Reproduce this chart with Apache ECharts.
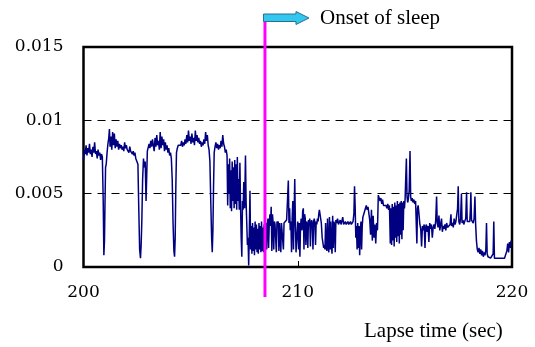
<!DOCTYPE html>
<html>
<head>
<meta charset="utf-8">
<script src="https://cdn.jsdelivr.net/npm/echarts@6/dist/echarts.min.js"></script>
<style>
  html, body { margin: 0; padding: 0; background: #fff; }
  #chart { width: 535px; height: 347px; }
</style>
</head>
<body>
<div id="chart"></div>
<script>
// [lapse time (sec), amplitude]
const awakeEarly = [
  [200.00,0.0073],[200.04,0.0080],[200.08,0.0077],[200.12,0.0083],[200.16,0.0076],[200.20,0.0081],
  [200.24,0.0078],[200.28,0.0084],[200.32,0.0077],[200.36,0.0080],[200.40,0.0075],[200.44,0.0082],
  [200.48,0.0078],[200.52,0.0085],[200.56,0.0077],[200.60,0.0079],[200.64,0.0074],[200.68,0.0080],
  [200.72,0.0076],[200.76,0.0078],[200.80,0.0073],[200.84,0.0077],[200.88,0.0075],[200.90,0.0074],
  [200.92,0.0045],[200.95,0.0008],[200.98,0.0018],[201.00,0.0040],[201.03,0.0068],[201.06,0.0070],
  [201.10,0.0078],[201.14,0.0084],[201.18,0.0088],[201.21,0.0094],[201.24,0.0082],[201.28,0.0089],
  [201.32,0.0080],[201.36,0.0092],[201.40,0.0083],[201.44,0.0091],[201.48,0.0081],[201.52,0.0087],
  [201.56,0.0082],[201.60,0.0086],[201.64,0.0080],[201.68,0.0084],[201.72,0.0081],[201.76,0.0083],
  [201.80,0.0080],[201.84,0.0082],[201.88,0.0079],[201.92,0.0085],[201.96,0.0081],[202.00,0.0083],
  [202.04,0.0080],[202.08,0.0081],[202.12,0.0078],[202.16,0.0082],[202.20,0.0079],[202.24,0.0080],
  [202.28,0.0077],[202.32,0.0079],[202.36,0.0076],[202.40,0.0078],[202.44,0.0074],[202.50,0.0073],
  [202.54,0.0070],[202.58,0.0040],[202.62,0.0012],[202.66,0.0006],[202.69,0.0015],[202.72,0.0030],
  [202.76,0.0060],[202.80,0.0074],[202.84,0.0068],[202.88,0.0072],[202.92,0.0045],[202.95,0.0062],
  [202.98,0.0079],[203.02,0.0080],[203.06,0.0084],[203.10,0.0081],[203.14,0.0086],[203.18,0.0082],
  [203.22,0.0087],[203.26,0.0083],[203.30,0.0079],[203.34,0.0088],[203.38,0.0082],[203.42,0.0090],
  [203.46,0.0083],[203.50,0.0086],[203.54,0.0080],[203.58,0.0092],[203.62,0.0081],[203.66,0.0089],
  [203.70,0.0083],[203.74,0.0087],[203.78,0.0079],[203.82,0.0085],[203.86,0.0080],[203.90,0.0083],
  [203.94,0.0078],[203.98,0.0081],[204.02,0.0076],[204.06,0.0078],[204.10,0.0074],[204.14,0.0060],
  [204.18,0.0030],[204.22,0.0011],[204.25,0.0007],[204.28,0.0020],[204.31,0.0055],[204.34,0.0078]
];

const awakeLate = [
  [204.38,0.0081],[204.42,0.0083],[204.46,0.0082],[204.50,0.0084],[204.54,0.0083],[204.58,0.0086],
  [204.62,0.0082],[204.66,0.0085],[204.70,0.0083],[204.74,0.0087],[204.78,0.0084],[204.82,0.0090],
  [204.86,0.0085],[204.90,0.0093],[204.94,0.0086],[204.98,0.0089],[205.02,0.0084],[205.06,0.0091],
  [205.10,0.0085],[205.14,0.0088],[205.18,0.0083],[205.22,0.0093],[205.26,0.0086],[205.30,0.0090],
  [205.34,0.0085],[205.38,0.0088],[205.42,0.0084],[205.46,0.0086],[205.50,0.0082],[205.54,0.0085],
  [205.58,0.0083],[205.62,0.0087],[205.66,0.0084],[205.70,0.0092],[205.74,0.0086],[205.78,0.0090],
  [205.82,0.0083],[205.86,0.0080],[205.90,0.0072],[205.94,0.0045],[205.98,0.0020],[206.01,0.0010],
  [206.04,0.0025],[206.07,0.0055],[206.10,0.0078],[206.14,0.0082],[206.18,0.0085],[206.22,0.0081],
  [206.26,0.0084],[206.30,0.0080],[206.34,0.0083],[206.38,0.0081],[206.42,0.0086],[206.46,0.0082],
  [206.50,0.0090],[206.54,0.0084],[206.58,0.0082],[206.62,0.0078],[206.66,0.0080]
];

const transition = [
  [206.70,0.0076],[206.73,0.0042],[206.76,0.0070],[206.79,0.0050],[206.82,0.0074],[206.85,0.0040],
  [206.88,0.0066],[206.91,0.0038],[206.94,0.0072],[206.97,0.0045],[207.00,0.0068],[207.03,0.0040],
  [207.06,0.0073],[207.09,0.0043],[207.12,0.0070],[207.15,0.0039],[207.18,0.0075],[207.21,0.0045],
  [207.24,0.0060],[207.27,0.0039],[207.30,0.0071],[207.33,0.0042],[207.36,0.0020],[207.39,0.0007],
  [207.42,0.0045],[207.45,0.0039],[207.48,0.0058],[207.52,0.0040],[207.56,0.0076],[207.59,0.0044],
  [207.62,0.0030],[207.65,0.0015],[207.68,0.0020],[207.71,0.0001],[207.74,0.0025],[207.77,0.0052],
  [207.80,0.0012],[207.83,0.0028],[207.86,0.0009],[207.89,0.0030],[207.92,0.0011],[207.95,0.0027],
  [207.98,0.0008],[208.01,0.0031],[208.04,0.0012],[208.07,0.0029],[208.10,0.0010],[208.13,0.0026],
  [208.16,0.0009],[208.19,0.0030],[208.22,0.0012],[208.25,0.0028],[208.28,0.0010],[208.31,0.0031],
  [208.34,0.0011],[208.37,0.0027],[208.40,0.0010],[208.43,0.0029],[208.46,0.0009],[208.49,0.0028],
  [208.52,0.0030],[208.55,0.0012],[208.58,0.0029],[208.61,0.0033],[208.64,0.0013],[208.67,0.0030],
  [208.70,0.0036],[208.73,0.0028],[208.76,0.0041],[208.79,0.0011],[208.82,0.0036],[208.85,0.0030],
  [208.88,0.0012],[208.91,0.0031],[208.94,0.0029],[208.97,0.0030],[209.00,0.0010],[209.03,0.0031],
  [209.06,0.0029],[209.09,0.0031],[209.12,0.0011],[209.15,0.0030],[209.18,0.0031],[209.21,0.0010],
  [209.24,0.0030],[209.27,0.0031],[209.30,0.0030],[209.33,0.0012],[209.36,0.0030],[209.40,0.0031],
  [209.44,0.0029],[209.48,0.0032],[209.52,0.0045],[209.56,0.0059],[209.59,0.0030],[209.62,0.0040],
  [209.65,0.0025],[209.68,0.0031],[209.71,0.0010],[209.74,0.0033],[209.77,0.0045],[209.80,0.0012],
  [209.83,0.0035],[209.86,0.0060],[209.89,0.0030],[209.92,0.0010]
];

const asleepEarly = [
  [210.00,0.0031],[210.04,0.0012],[210.07,0.0030],[210.10,0.0007],[210.13,0.0028],[210.16,0.0033],
  [210.20,0.0025],[210.23,0.0038],[210.26,0.0040],[210.29,0.0012],[210.32,0.0036],[210.35,0.0033],
  [210.38,0.0015],[210.41,0.0031],[210.44,0.0029],[210.47,0.0013],[210.50,0.0032],[210.53,0.0028],
  [210.56,0.0033],[210.59,0.0014],[210.62,0.0030],[210.65,0.0032],[210.68,0.0029],[210.71,0.0012],
  [210.74,0.0031],[210.77,0.0033],[210.80,0.0030],[210.83,0.0015],[210.86,0.0031],[210.89,0.0029],
  [210.92,0.0033],[210.95,0.0031],[210.98,0.0036],[211.01,0.0039],[211.04,0.0040],[211.07,0.0033],
  [211.10,0.0030],[211.14,0.0020],[211.18,0.0016],[211.21,0.0013],[211.24,0.0015],[211.27,0.0012],
  [211.30,0.0030],[211.33,0.0013],[211.36,0.0011],[211.39,0.0033],[211.42,0.0014],[211.45,0.0010],
  [211.48,0.0034],[211.51,0.0012],[211.54,0.0031],[211.57,0.0014],[211.60,0.0009],[211.63,0.0035],
  [211.66,0.0013],[211.69,0.0031],[211.72,0.0028],[211.75,0.0010],[211.78,0.0032],[211.82,0.0030],
  [211.86,0.0033],[211.90,0.0029],[211.94,0.0030],[211.98,0.0032],[212.02,0.0029],[212.06,0.0030],
  [212.10,0.0034],[212.14,0.0029],[212.18,0.0030],[212.22,0.0031],[212.26,0.0029],[212.30,0.0030],
  [212.34,0.0031],[212.38,0.0029],[212.42,0.0030],[212.46,0.0031],[212.50,0.0029],[212.54,0.0030],
  [212.58,0.0031],[212.62,0.0036],[212.65,0.0055],[212.68,0.0041],[212.71,0.0020],[212.74,0.0028],
  [212.77,0.0012],[212.80,0.0030],[212.83,0.0013],[212.86,0.0028],[212.89,0.0008],[212.92,0.0025],
  [212.95,0.0031],[212.98,0.0012],[213.01,0.0028],[213.04,0.0034],[213.08,0.0036],[213.12,0.0038],
  [213.16,0.0040],[213.20,0.0042],[213.24,0.0039],[213.28,0.0041],[213.32,0.0040],[213.36,0.0032],
  [213.40,0.0022],[213.44,0.0039],[213.48,0.0018],[213.52,0.0035],[213.56,0.0020],[213.60,0.0029],
  [213.64,0.0016],[213.68,0.0030],[213.72,0.0025],[213.76,0.0049],[213.80,0.0050],[213.84,0.0045],
  [213.88,0.0047],[213.92,0.0043],[213.96,0.0046],[214.00,0.0042],[214.04,0.0043],[214.08,0.0041],
  [214.12,0.0042],[214.16,0.0040],[214.20,0.0043],[214.24,0.0039],[214.28,0.0042],[214.32,0.0016],
  [214.35,0.0040],[214.38,0.0015],[214.41,0.0043],[214.44,0.0018],[214.47,0.0041],[214.50,0.0014],
  [214.53,0.0044],[214.56,0.0020],[214.59,0.0042],[214.62,0.0017],[214.65,0.0045],[214.68,0.0021],
  [214.71,0.0043],[214.74,0.0016],[214.77,0.0044],[214.80,0.0022],[214.83,0.0045],[214.86,0.0019],
  [214.89,0.0044],[214.92,0.0025],[214.95,0.0045],[214.98,0.0040]
];

const asleepLate = [
  [215.01,0.0046],[215.04,0.0047],[215.07,0.0074],[215.10,0.0048],[215.13,0.0044],[215.16,0.0046],
  [215.20,0.0052],[215.24,0.0079],[215.27,0.0048],[215.30,0.0045],[215.34,0.0047],[215.38,0.0044],
  [215.42,0.0046],[215.46,0.0043],[215.50,0.0045],[215.53,0.0030],[215.56,0.0016],[215.59,0.0040],
  [215.62,0.0042],[215.66,0.0036],[215.70,0.0029],[215.74,0.0026],[215.78,0.0014],[215.82,0.0028],
  [215.86,0.0025],[215.90,0.0029],[215.94,0.0013],[215.97,0.0027],[216.00,0.0029],[216.04,0.0024],
  [216.08,0.0028],[216.12,0.0017],[216.16,0.0030],[216.20,0.0026],[216.24,0.0029],[216.28,0.0020],
  [216.32,0.0027],[216.36,0.0029],[216.40,0.0026],[216.44,0.0032],[216.48,0.0048],[216.51,0.0030],
  [216.55,0.0027],[216.59,0.0035],[216.63,0.0025],[216.67,0.0029],[216.71,0.0033],[216.75,0.0024],
  [216.79,0.0028],[216.83,0.0026],[216.87,0.0029],[216.91,0.0025],[216.95,0.0030],[216.99,0.0027],
  [217.03,0.0028],[217.07,0.0026],[217.11,0.0029],[217.15,0.0036],[217.18,0.0028],[217.22,0.0030],
  [217.26,0.0027],[217.30,0.0033],[217.34,0.0029],[217.38,0.0031],[217.42,0.0030],[217.46,0.0040],
  [217.49,0.0055],[217.52,0.0031],[217.56,0.0029],[217.60,0.0033],[217.64,0.0050],[217.67,0.0030],
  [217.71,0.0032],[217.75,0.0029],[217.79,0.0031],[217.84,0.0033],[217.88,0.0051],[217.91,0.0031],
  [217.95,0.0030],[217.99,0.0032],[218.03,0.0031],[218.06,0.0040],[218.08,0.0051],[218.11,0.0032],
  [218.15,0.0031],[218.19,0.0030],[218.23,0.0033],[218.27,0.0048],[218.30,0.0030],[218.34,0.0018],
  [218.38,0.0012],[218.42,0.0010],[218.46,0.0013],[218.50,0.0009],[218.54,0.0012],[218.58,0.0008],
  [218.62,0.0011],[218.66,0.0007],[218.70,0.0010],[218.74,0.0008],[218.78,0.0012],[218.81,0.0030],
  [218.84,0.0009],[218.88,0.0007],[218.92,0.0006],[218.96,0.0008],[219.00,0.0006],[219.04,0.0007],
  [219.08,0.0006],[219.12,0.0009],[219.15,0.0031],[219.18,0.0006],[219.25,0.0006],[219.35,0.0006],
  [219.45,0.0006],[219.55,0.0006],[219.65,0.0006],[219.72,0.0006],[219.76,0.0011],[219.80,0.0016],
  [219.84,0.0010],[219.88,0.0017],[219.92,0.0013],[219.96,0.0018]
];

const xTicks = [200, 210, 220]
const yTicks = [0, 0.005, 0.01, 0.015]
const onsetTime = 208.47
const onsetLabel = 'Onset of sleep'
const xTitle = 'Lapse time (sec)'

const signal = [...awakeEarly, ...awakeLate, ...transition, ...asleepEarly, ...asleepLate]

const chart = echarts.init(document.getElementById('chart'), null, { renderer: 'canvas' })

const tickFont = { color: '#000', fontFamily: 'DejaVu Serif', fontSize: 17 }

chart.setOption({
  animation: false,
  grid: {
    left: 83.5, right: 23, top: 47, bottom: 80,
    show: true,
    borderColor: '#000',
    borderWidth: 2.5,
    backgroundColor: '#fff',
  },
  xAxis: {
    type: 'value',
    min: xTicks[0],
    max: xTicks[xTicks.length - 1],
    interval: xTicks[1] - xTicks[0],
    axisLine: { show: false },
    axisTick: { show: true, inside: true, length: 6, lineStyle: { color: '#000', width: 1 } },
    axisLabel: { ...tickFont, margin: 17 },
    splitLine: { show: false },
  },
  yAxis: {
    type: 'value',
    min: yTicks[0],
    max: yTicks[yTicks.length - 1],
    interval: yTicks[1] - yTicks[0],
    axisLine: { show: false },
    axisTick: { show: false },
    axisLabel: { ...tickFont, margin: 20, formatter: v => String(+v.toFixed(3)) },
    splitLine: { show: true, lineStyle: { color: '#000', width: 1, type: [8, 6] } },
  },
  series: [
    {
      type: 'line',
      data: signal,
      showSymbol: false,
      symbol: 'none',
      sampling: null,
      lineStyle: { color: '#000080', width: 1.5 },
      z: 3,
    },
  ],
})

// onset marker: magenta line + arrow pinned to the onset time on the x scale
const px = chart.convertToPixel({ xAxisIndex: 0 }, onsetTime)

chart.setOption({
  graphic: [
    {
      type: 'line',
      z: 100,
      shape: { x1: px, y1: 21, x2: px, y2: 297 },
      style: { stroke: '#ff00ff', lineWidth: 3 },
    },
    {
      type: 'polygon',
      z: 101,
      shape: {
        points: [
          [px - 1.5, 14], [px + 31, 14], [px + 31, 11.5], [px + 44, 18],
          [px + 31, 24.5], [px + 31, 21.5], [px - 1.5, 21.5],
        ],
      },
      style: { fill: '#33c6ee', stroke: '#2b6f8c', lineWidth: 1 },
    },
    {
      type: 'text',
      z: 101,
      x: px + 55,
      y: 18,
      style: {
        text: onsetLabel,
        fill: '#000',
        font: '21px "Liberation Serif"',
        verticalAlign: 'middle',
        align: 'left',
      },
    },
    {
      type: 'text',
      z: 101,
      x: 364,
      y: 331,
      style: {
        text: xTitle,
        fill: '#000',
        font: '21px "Liberation Serif"',
        verticalAlign: 'middle',
        align: 'left',
      },
    },
  ],
})
</script>
</body>
</html>
